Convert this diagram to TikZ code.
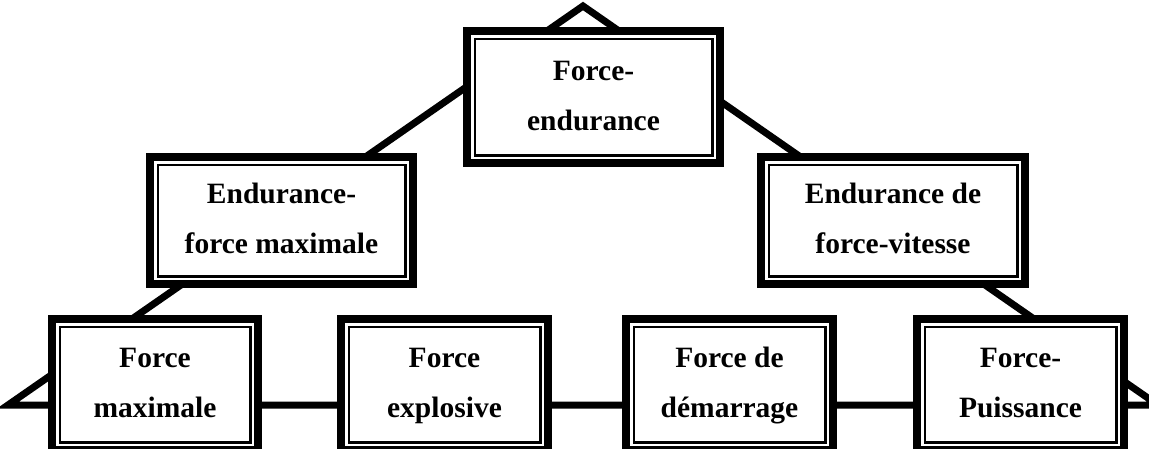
\documentclass[tikz,border=0pt]{standalone}
\usepackage{fontspec}
\setmainfont{Liberation Serif}
\newcommand\mystrut{\rule[-8pt]{0pt}{32pt}}
\tikzset{
  box/.style={draw, fill=white, line width=8pt, rectangle, inner sep=0pt,
    align=center, font=\bfseries\fontsize{29.5}{50}\selectfont,
    path picture={\draw[line width=2.5pt]
      ([shift={(7.75pt,7.75pt)}]path picture bounding box.south west) rectangle
      ([shift={(-7.75pt,-7.75pt)}]path picture bounding box.north east);}},
  tri/.style={line width=7pt, line join=miter}
}
\begin{document}
\begin{tikzpicture}[x=1pt,y=-1pt]
\useasboundingbox (0,0) rectangle (1149,448);
\coordinate (apex) at (583,6);
\coordinate (cl) at (8,405);
\coordinate (cr) at (1158,405);
\draw[tri] (cl) -- (apex) -- (cr) -- cycle;
\node[box, minimum width=253pt, minimum height=132pt] (top) at (593.5,97) {\mystrut Force-\\\mystrut endurance};
\node[box, minimum width=263pt, minimum height=127pt] (midL) at (281.5,220.5) {\mystrut Endurance-\\\mystrut force maximale};
\node[box, minimum width=264pt, minimum height=127pt] (midR) at (893,220.5) {\mystrut Endurance de\\\mystrut force-vitesse};
\begin{scope}[every node/.append style={minimum height=131pt}]
\node[box, minimum width=206pt] (b1) at (155,384.5) {\mystrut Force\\\mystrut maximale};
\node[box, minimum width=207pt] (b2) at (444.5,384.5) {\mystrut Force\\\mystrut explosive};
\node[box, minimum width=207pt] (b3) at (729.5,384.5) {\mystrut Force de\\\mystrut démarrage};
\node[box, minimum width=207pt] (b4) at (1020.5,384.5) {\mystrut Force-\\\mystrut Puissance};
\end{scope}
\end{tikzpicture}
\end{document}
